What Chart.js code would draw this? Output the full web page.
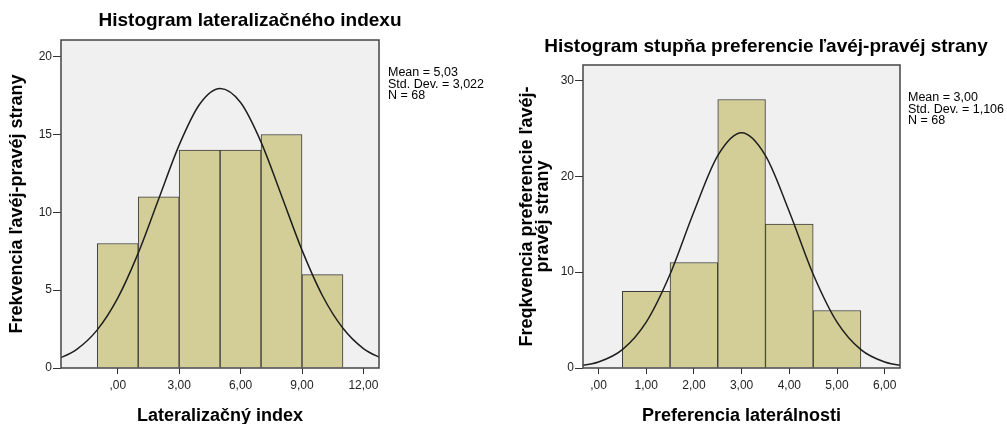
<!DOCTYPE html>
<html>
<head>
<meta charset="utf-8">
<script src="https://cdn.jsdelivr.net/npm/chart.js@4.4.1/dist/chart.umd.min.js"></script>
<style>
  html, body { margin: 0; padding: 0; background: #fff; }
  #wrap { position: relative; width: 1007px; height: 424px; overflow: hidden; }
  canvas { position: absolute; top: 0; }
  #chartL { left: 0; }
  #chartR { left: 500px; }
</style>
</head>
<body>
<div id="wrap">
  <canvas id="chartL" width="500" height="424"></canvas>
  <canvas id="chartR" width="507" height="424"></canvas>
</div>
<script>
// --- Histogram 1: lateralizačný index (triedy šírky 2) ---
const latBins = [0, 2, 4, 6, 8, 10];
const latCounts = [8, 11, 14, 14, 15, 6];
const latCurveX = [-3, -2, -1, 0, 1, 2, 3, 4, 5, 6, 7, 8, 9, 10, 11, 12, 13];
const latCurveY = [0.53, 1.2, 2.45, 4.49, 7.38, 10.86, 14.32, 16.94, 17.95, 17.05, 14.51, 11.07, 7.57, 4.64, 2.55, 1.25, 0.55];
const latXTicks = [0, 3, 6, 9, 12];
const latXLabels = [",00", "3,00", "6,00", "9,00", "12,00"];
const latYTicks = [0, 5, 10, 15, 20];
const latStats = ["Mean = 5,03", "Std. Dev. = 3,022", "N = 68"];

// --- Histogram 2: preferencia laterálnosti (triedy šírky 1) ---
const prefBins = [1, 2, 3, 4, 5];
const prefCounts = [8, 11, 28, 15, 6];
const prefCurveX = [-0.5, 0, 0.5, 1, 1.5, 2, 2.5, 3, 3.5, 4, 4.5, 5, 5.5, 6, 6.5];
const prefCurveY = [0.16, 0.62, 1.91, 4.78, 9.78, 16.3, 22.15, 24.53, 22.15, 16.3, 9.78, 4.78, 1.91, 0.62, 0.16];
const prefXTicks = [0, 1, 2, 3, 4, 5, 6];
const prefXLabels = [",00", "1,00", "2,00", "3,00", "4,00", "5,00", "6,00"];
const prefYTicks = [0, 10, 20, 30];
const prefStats = ["Mean = 3,00", "Std. Dev. = 1,106", "N = 68"];

const FONT = "'Liberation Sans', Arial, sans-serif";
Chart.defaults.font.family = FONT;

// pozadie a rám plochy grafu + nadpis a štatistiky
const spssFrame = {
  id: "spssFrame",
  beforeDraw(chart) {
    const { ctx, chartArea: a } = chart;
    ctx.save();
    ctx.fillStyle = "#f0f0f0";
    ctx.fillRect(a.left, a.top, a.width, a.height);
    ctx.restore();
  },
  afterDraw(chart, args, opts) {
    const { ctx, chartArea: a } = chart;
    ctx.save();
    ctx.strokeStyle = "#444";
    ctx.lineWidth = 1.5;
    ctx.strokeRect(a.left, a.top, a.width, a.height);

    ctx.fillStyle = "#000";
    ctx.textAlign = "center";
    ctx.textBaseline = "alphabetic";
    ctx.font = "bold 19px " + FONT;
    ctx.fillText(opts.title, opts.titleX, opts.titleY);

    ctx.textAlign = "left";
    ctx.font = "12.5px " + FONT;
    opts.stats.forEach((s, i) => ctx.fillText(s, opts.statsX, opts.statsY + i * 11.5));
    ctx.restore();
  }
};

function histogram(id, d) {
  return new Chart(document.getElementById(id), {
    type: "bar",
    data: {
      datasets: [
        {
          type: "line",
          data: d.curveX.map((x, i) => ({ x, y: d.curveY[i] })),
          borderColor: "#1e1e1e",
          borderWidth: 1.5,
          pointRadius: 0,
          fill: false,
          cubicInterpolationMode: "monotone",
          order: 0
        },
        {
          type: "bar",
          data: d.bins.map((x, i) => ({ x, y: d.counts[i] })),
          backgroundColor: "#d3ce97",
          borderColor: "#3a3a3a",
          borderWidth: { top: 1, left: 1, right: 1, bottom: 0 },
          borderSkipped: false,
          barPercentage: 1,
          categoryPercentage: 1,
          order: 1
        }
      ]
    },
    options: {
      responsive: false,
      animation: false,
      events: [],
      layout: { padding: { left: 0, top: d.top, right: d.right, bottom: 0 } },
      plugins: {
        legend: { display: false },
        tooltip: { enabled: false },
        spssFrame: d.text
      },
      scales: {
        x: {
          type: "linear",
          min: d.xMin,
          max: d.xMax,
          offset: false,
          afterBuildTicks: s => { s.ticks = d.xTicks.map(v => ({ value: v })); },
          afterFit: s => { s.height = 56; },
          grid: { drawOnChartArea: false, offset: false, tickLength: 6, color: "#333" },
          border: { display: false },
          ticks: {
            callback: (v, i) => d.xLabels[i],
            color: "#222",
            font: { size: 12 },
            padding: 4,
            maxRotation: 0,
            autoSkip: false
          },
          title: {
            display: true,
            text: d.xTitle,
            color: "#000",
            font: { size: 18, weight: "bold", lineHeight: "16px" },
            padding: { top: 0, bottom: 0 }
          }
        },
        y: {
          min: 0,
          max: d.yMax,
          afterBuildTicks: s => { s.ticks = d.yTicks.map(v => ({ value: v })); },
          afterFit: s => { s.width = d.yWidth; },
          grid: { drawOnChartArea: false, tickLength: 8, color: "#333" },
          border: { display: false },
          ticks: { color: "#222", font: { size: 12 }, padding: 1 },
          title: {
            display: true,
            text: d.yTitle,
            color: "#000",
            font: { size: 18, weight: "bold", lineHeight: "16px" },
            padding: { top: d.yTitlePad, bottom: 0 }
          }
        }
      }
    },
    plugins: [spssFrame]
  });
}

histogram("chartL", {
  bins: latBins, counts: latCounts, curveX: latCurveX, curveY: latCurveY,
  xTicks: latXTicks, xLabels: latXLabels, yTicks: latYTicks,
  xMin: -2.77, xMax: 12.76, yMax: 21.07,
  top: 40, right: 121, yWidth: 61, yTitlePad: 9,
  xTitle: "Lateralizačný index",
  yTitle: "Frekvencia ľavéj-pravéj strany",
  text: { title: "Histogram lateralizačného indexu", titleX: 250, titleY: 26, stats: latStats, statsX: 388, statsY: 76 }
});

histogram("chartR", {
  bins: prefBins, counts: prefCounts, curveX: prefCurveX, curveY: prefCurveY,
  xTicks: prefXTicks, xLabels: prefXLabels, yTicks: prefYTicks,
  xMin: -0.325, xMax: 6.32, yMax: 31.6,
  top: 65, right: 107, yWidth: 83, yTitlePad: 19,
  xTitle: "Preferencia laterálnosti",
  yTitle: ["Freqkvencia preferencie ľavéj-", "pravéj strany"],
  text: { title: "Histogram stupňa preferencie ľavéj-pravéj strany", titleX: 266, titleY: 52, stats: prefStats, statsX: 408, statsY: 101 }
});
</script>
</body>
</html>
